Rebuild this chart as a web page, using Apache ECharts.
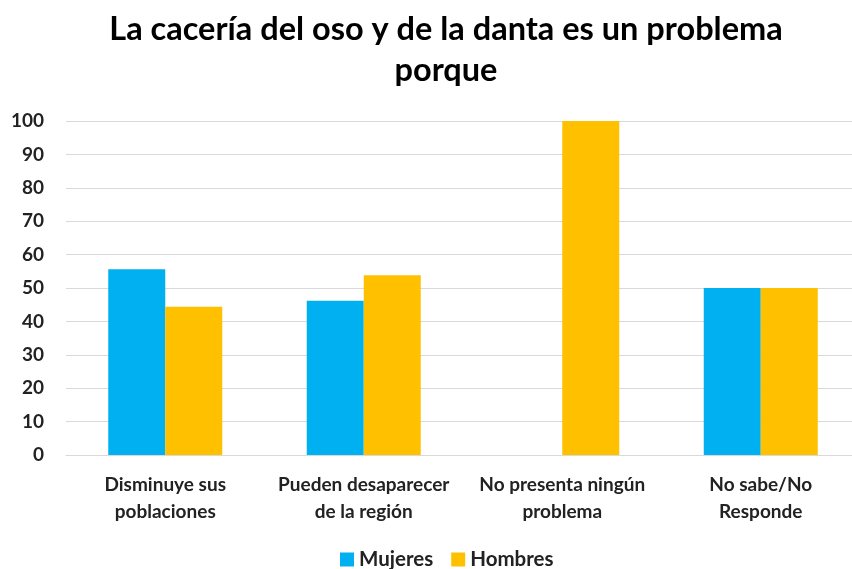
<!DOCTYPE html>
<html>
<head>
<meta charset="utf-8">
<script src="https://cdn.jsdelivr.net/npm/echarts@6/dist/echarts.min.js"></script>
<style>
  html, body { margin: 0; padding: 0; background: #fff; overflow: hidden; }
  #grafico { width: 860px; height: 569px; }
</style>
</head>
<body>
<div id="grafico"></div>
<script>
var categorias = ['Disminuye sus\npoblaciones', 'Pueden desaparecer\nde la región', 'No presenta ningún\nproblema', 'No sabe/No\nResponde'];
var mujeres = [55.6, 46.2, 0, 50];
var hombres = [44.4, 53.8, 100, 50];
var ticks = [0, 10, 20, 30, 40, 50, 60, 70, 80, 90, 100];

// the plot runs past the right edge of the 852px picture, so the div is a bit wider
var myChart = echarts.init(document.getElementById('grafico'));
var fonte = 'Lato';

var option = {
  title: {
    text: 'La cacería del oso y de la danta es un problema\nporque',
    left: 441,
    textAlign: 'center',
    top: 4,
    textStyle: {
      fontFamily: fonte,
      fontWeight: 'bold',
      fontSize: 32.5,
      lineHeight: 41,
      color: '#000'
    }
  },
  legend: {
    data: ['Mujeres', 'Hombres'],
    bottom: -6,
    left: 335,
    icon: 'rect',
    itemWidth: 14,
    itemHeight: 14,
    itemGap: 18,
    textStyle: { fontFamily: fonte, fontWeight: 'bold', fontSize: 20.5, color: '#222' }
  },
  grid: {
    left: 66,
    top: 121,
    right: 0,
    bottom: 114,
    containLabel: false
  },
  xAxis: {
    type: 'category',
    data: categorias,
    axisTick: { show: false },
    axisLine: { show: true, lineStyle: { color: '#d9d9d9', width: 1 } },
    axisLabel: {
      interval: 0,
      fontFamily: fonte,
      fontWeight: 'bold',
      fontSize: 19,
      color: '#222',
      lineHeight: 27,
      margin: 16
    }
  },
  yAxis: {
    type: 'value',
    min: ticks[0],
    max: ticks[ticks.length - 1],
    interval: 10,
    axisLine: { show: false },
    axisTick: { show: false },
    splitLine: { lineStyle: { color: '#d9d9d9', width: 1 } },
    axisLabel: {
      fontFamily: fonte,
      fontWeight: 'bold',
      fontSize: 19,
      color: '#222',
      margin: 22
    }
  },
  series: [
    {
      name: 'Mujeres',
      type: 'bar',
      data: mujeres,
      barWidth: 57,
      barGap: '0%',
      itemStyle: { color: '#00b0f0' }
    },
    {
      name: 'Hombres',
      type: 'bar',
      data: hombres,
      barWidth: 57,
      itemStyle: { color: '#ffc000' }
    }
  ]
};

option && myChart.setOption(option);
</script>
</body>
</html>
